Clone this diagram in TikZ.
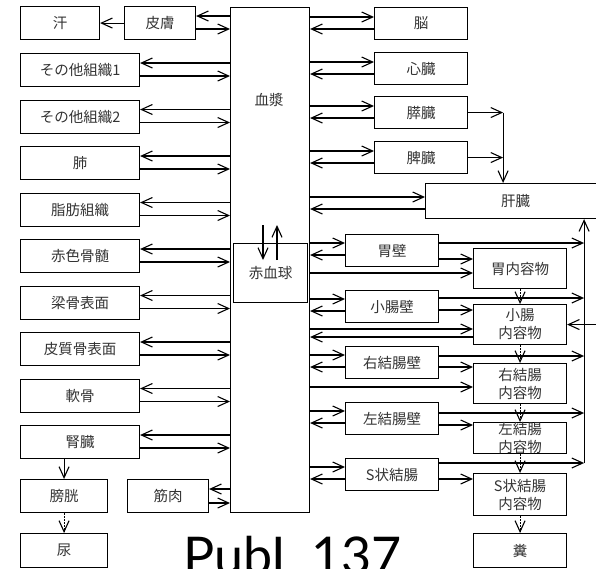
\documentclass[tikz,border=0pt]{standalone}
\usepackage{fontspec}
\setmainfont{Noto Sans CJK JP}
\newfontfamily\pubfont{Lato}
\usetikzlibrary{arrows.meta,calc}
\newcommand\mylpair[3]{%
 \coordinate (#1a) at ([yshift=-#2pt]#1.north east);
 \coordinate (#1b) at ([yshift=-#3pt]#1.north east);
 \draw[arr] (plasma.west |- #1a) -- (#1a);
 \draw[arr] (#1b) -- (plasma.west |- #1b);}
\newcommand\myrpair[3]{%
 \coordinate (#1a) at ([yshift=-#2pt]#1.north west);
 \coordinate (#1b) at ([yshift=-#3pt]#1.north west);
 \draw[arr] (plasma.east |- #1a) -- (#1a);
 \draw[arr] (#1b) -- (plasma.east |- #1b);}
\begin{document}
\begin{tikzpicture}[x=1pt,y=-1pt,
  box/.style={draw, line width=1.1pt, inner sep=0pt, anchor=north west,
    font=\fontsize{14.5}{18}\selectfont, text=black!80, align=center},
  lbl/.style={inner sep=0pt, font=\fontsize{14.5}{18}\selectfont, text=black!80},
  arr/.style={-{Straight Barb[length=11pt,width=10pt,line width=1.1pt]}, line width=1.1pt},
  dotarr/.style={arr, dash pattern=on 1.5pt off 1.5pt}]
\useasboundingbox (0,0) rectangle (596,568);
% left column
\node[box, minimum width=79pt, minimum height=33pt] (sweat) at (20,6) {汗};
\node[box, minimum width=71pt, minimum height=33pt] (skin) at (124,6) {皮膚};
\foreach \nm/\yy/\tx in {oth1/53/その他組織1, oth2/99.5/その他組織2, lung/146/肺,
  fat/192.5/脂肪組織, rbm/239/赤色骨髄, trab/285.5/梁骨表面, cort/332/皮質骨表面,
  cart/378.5/軟骨, kid/425/腎臓}
  \node[box, minimum width=119pt, minimum height=33pt] (\nm) at (20,\yy) {\tx};
\node[box, minimum width=87pt, minimum height=33pt] (blad) at (20,479) {膀胱};
\node[box, minimum width=81pt, minimum height=33pt] (musc) at (127,479) {筋肉};
\node[box, minimum width=87pt, minimum height=34pt] (urine) at (20,533) {尿};
% plasma and red blood cells
\node[box, minimum width=79pt, minimum height=505pt] (plasma) at (230,7) {};
\node[lbl] (plasmalbl) at (269,100) {血漿};
\node[box, minimum width=74pt, minimum height=59pt] (rbc) at (233,243) {赤血球};
% right top column
\node[box, minimum width=93pt, minimum height=32pt] (brain) at (374,7) {脳};
\node[box, minimum width=93pt, minimum height=32pt] (heart) at (374,52) {心臓};
\node[box, minimum width=93pt, minimum height=32pt] (panc) at (374,96) {膵臓};
\node[box, minimum width=93pt, minimum height=32pt] (spleen) at (374,141) {脾臓};
\node[box, minimum width=180pt, minimum height=35pt] (liver) at (425,183) {肝臓};
% GI walls
\node[box, minimum width=93pt, minimum height=32pt] (stw) at (345,234) {胃壁};
\node[box, minimum width=93pt, minimum height=32pt] (siw) at (345,290) {小腸壁};
\node[box, minimum width=93pt, minimum height=32pt] (rcw) at (345,346) {右結腸壁};
\node[box, minimum width=93pt, minimum height=32pt] (lcw) at (345,402) {左結腸壁};
\node[box, minimum width=93pt, minimum height=32pt] (sgw) at (345,458) {S状結腸};
% GI contents
\node[box, minimum width=93pt, minimum height=40pt] (stc) at (473,248) {胃内容物};
\node[box, minimum width=93pt, minimum height=40pt] (sic) at (473,304) {小腸\\内容物};
\node[box, minimum width=93pt, minimum height=40pt] (rcc) at (473,363) {右結腸\\内容物};
\node[box, minimum width=93pt, minimum height=30pt] (lcc) at (473,422) {左結腸\\内容物};
\node[box, minimum width=93pt, minimum height=42pt] (sgc) at (473,473) {S状結腸\\内容物};
\node[box, minimum width=93pt, minimum height=34pt] (feces) at (473,533) {糞};
% watermark text
\node[inner sep=0pt, anchor=base west, font=\pubfont\fontsize{52}{52}\selectfont] (pub) at (183,574) {PubL 137};
% left connectors
\mylpair{skin}{10}{23}
\draw[arr] (skin.west) -- (sweat.east);
\foreach \nm in {oth1,oth2,lung,fat,rbm,trab,cort,cart,kid} {\mylpair{\nm}{10}{23}}
\mylpair{musc}{10}{24}
\draw[arr] (kid.south -| blad.north) -- (blad.north);
\draw[dotarr] (blad.south) -- (urine.north);
% rbc arrows
\coordinate (rd1) at ([xshift=30pt,yshift=18pt]rbc.north west);
\coordinate (rd2) at ([xshift=30pt,yshift=-17pt]rbc.north west);
\coordinate (ru1) at ([xshift=44pt,yshift=-17pt]rbc.north west);
\coordinate (ru2) at ([xshift=44pt,yshift=18pt]rbc.north west);
\draw[arr] (rd1) -- (rd2);
\draw[arr] (ru1) -- (ru2);
% right top connectors
\foreach \nm in {brain,heart,panc,spleen} {\myrpair{\nm}{10}{22}}
\myrpair{liver}{14}{26}
\coordinate (jn) at ([xshift=35pt]panc.east);
\draw[arr] (panc.east) -- (jn);
\draw[arr] (spleen.east) -- (jn |- spleen.east);
\draw[arr] (jn) -- (jn |- liver.north);
% GI wall connectors
\foreach \nm in {stw,siw,rcw,lcw,sgw} {\myrpair{\nm}{9}{21}}
\coordinate (rx) at ([xshift=17pt]stc.east);
\foreach \nm/\ya/\yb in {stw/9/25, siw/8/20, rcw/10/21, lcw/11/23, sgw/5/21} {
  \coordinate (\nm r) at ([yshift=-\ya pt]\nm.north east);
  \coordinate (\nm c) at ([yshift=-\yb pt]\nm.north east);
  \draw[arr] (\nm r) -- (rx |- \nm r);
}
\draw[arr] (stwc) -- (stc.west |- stwc);
\draw[arr] (siwc) -- (sic.west |- siwc);
\draw[arr] (rcwc) -- (rcc.west |- rcwc);
\draw[arr] (lcwc) -- (lcc.west |- lcwc);
\draw[arr] (sgwc) -- (sgc.west |- sgwc);
\draw[arr] (rx |- sgwr) -- (rx |- liver.south);
% plasma to contents
\coordinate (pst) at ([yshift=-25pt]stc.north west);
\coordinate (psi) at ([yshift=-25pt]sic.north west);
\coordinate (psi2) at ([yshift=-33pt]sic.north west);
\coordinate (prc) at ([yshift=-24pt]rcc.north west);
\draw[arr] (plasma.east |- pst) -- (pst);
\draw[arr] (plasma.east |- psi) -- (psi);
\draw[arr] (psi2) -- (plasma.east |- psi2);
\draw[arr] (plasma.east |- prc) -- (prc);
\coordinate (rin) at ([xshift=40pt]sic.east);
\draw[arr] (rin) -- (sic.east);
% dotted transit
\draw[dotarr] (stc.south) -- (sic.north);
\draw[dotarr] (sic.south) -- (rcc.north);
\draw[dotarr] (rcc.south) -- (lcc.north);
\draw[dotarr] (lcc.south) -- (sgc.north);
\draw[dotarr] (sgc.south) -- (feces.north);
\end{tikzpicture}
\end{document}
